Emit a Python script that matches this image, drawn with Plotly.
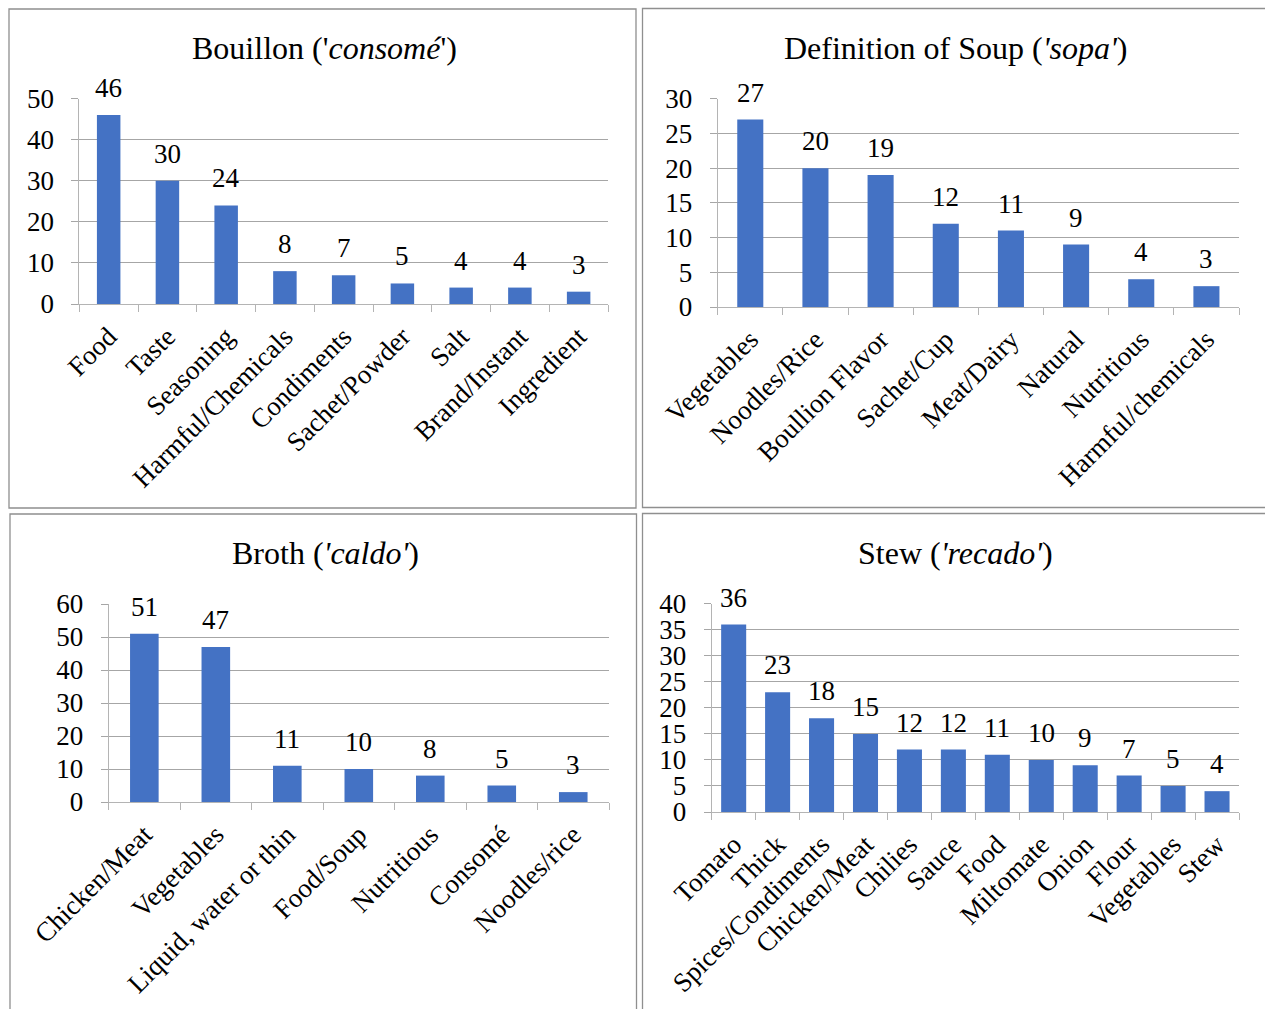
import plotly.graph_objects as go

W, H = 1265, 1009

# ---- data ----
bouillon_cats = ["Food", "Taste", "Seasoning", "Harmful/Chemicals", "Condiments",
                 "Sachet/Powder", "Salt", "Brand/Instant", "Ingredient"]
bouillon_vals = [46, 30, 24, 8, 7, 5, 4, 4, 3]

soup_cats = ["Vegetables", "Noodles/Rice", "Boullion Flavor", "Sachet/Cup",
             "Meat/Dairy", "Natural", "Nutritious", "Harmful/chemicals"]
soup_vals = [27, 20, 19, 12, 11, 9, 4, 3]

broth_cats = ["Chicken/Meat", "Vegetables", "Liquid, water or thin", "Food/Soup",
              "Nutritious", "Consomé", "Noodles/rice"]
broth_vals = [51, 47, 11, 10, 8, 5, 3]

stew_cats = ["Tomato", "Thick", "Spices/Condiments", "Chicken/Meat", "Chilies",
             "Sauce", "Food", "Miltomate", "Onion", "Flour", "Vegetables", "Stew"]
stew_vals = [36, 23, 18, 15, 12, 12, 11, 10, 9, 7, 5, 4]

titles = ["Bouillon ('<i>consomé</i>')",
          "Definition of Soup (<i>'sopa'</i>)",
          "Broth (<i>'caldo'</i>)",
          "Stew (<i>'recado'</i>)"]

# ---- styling / layout ----
FONT = "Liberation Serif"
BAR = "#4472C4"
GRID = "#a6a6a6"
AXIS = "#b4b4b4"
BORDER = "#8f8f8f"

panels = [
    dict(cats=bouillon_cats, vals=bouillon_vals, ymax=50, dtick=10, width=0.40,
         box=(79.3, 608, 98.7, 304), border=(9, 636, 9, 508), title_xy=(324, 48)),
    dict(cats=soup_cats, vals=soup_vals, ymax=30, dtick=5, width=0.40,
         box=(717.7, 1239, 98.7, 307), border=(642.5, 1275, 8.5, 507.5), title_xy=(955, 48)),
    dict(cats=broth_cats, vals=broth_vals, ymax=60, dtick=10, width=0.40,
         box=(108.6, 609, 604, 802), border=(10, 636.5, 514, 1020), title_xy=(325, 553)),
    dict(cats=stew_cats, vals=stew_vals, ymax=40, dtick=5, width=0.57,
         box=(711.7, 1239, 603.7, 812), border=(642.5, 1275, 513.5, 1020), title_xy=(955, 553)),
]

fig = go.Figure()
layout = dict(
    width=W, height=H, margin=dict(l=0, r=0, t=0, b=0, autoexpand=False),
    paper_bgcolor="white", plot_bgcolor="white", showlegend=False,
    font=dict(family=FONT, color="black", size=26),
)
annotations = []
shapes = []

for i, p in enumerate(panels, start=1):
    xa = "x" if i == 1 else f"x{i}"
    ya = "y" if i == 1 else f"y{i}"
    x0, x1, yt, yb = p["box"]
    fig.add_trace(go.Bar(
        x=p["cats"], y=p["vals"], xaxis=xa, yaxis=ya,
        marker=dict(color=BAR, line=dict(width=0)), width=p["width"],
        hoverinfo="x+y",
    ))
    layout[f"xaxis{'' if i == 1 else i}"] = dict(
        domain=[x0 / W, x1 / W], anchor=ya, type="category", automargin=False,
        showline=True, linecolor=AXIS, linewidth=1,
        ticks="outside", tickson="boundaries", ticklen=7, tickcolor=AXIS,
        tickangle=-45, ticklabelstandoff=5,
        tickfont=dict(family=FONT, size=27, color="black"),
        showgrid=False, fixedrange=True,
    )
    layout[f"yaxis{'' if i == 1 else i}"] = dict(
        domain=[(H - yb) / H, (H - yt) / H], anchor=xa, automargin=False,
        range=[0, p["ymax"]], dtick=p["dtick"], tick0=0,
        showline=True, linecolor=AXIS, linewidth=1,
        ticks="outside", ticklen=7, tickcolor=GRID,
        showgrid=True, gridcolor=GRID, gridwidth=1,
        zeroline=False, ticklabelstandoff=12,
        tickfont=dict(family=FONT, size=27, color="black"), fixedrange=True,
    )
    # value labels
    for c, v in zip(p["cats"], p["vals"]):
        annotations.append(dict(
            x=c, y=v, xref=xa, yref=ya, text=str(v), showarrow=False,
            yanchor="middle", yshift=27, font=dict(family=FONT, size=27, color="black"),
        ))
    # title
    tx, ty = p["title_xy"]
    annotations.append(dict(
        x=tx / W, y=(H - ty) / H, xref="paper", yref="paper", text=titles[i - 1],
        showarrow=False, xanchor="center", yanchor="middle",
        font=dict(family=FONT, size=32, color="black"),
    ))
    bx0, bx1, by0, by1 = p["border"]
    shapes.append(dict(
        type="rect", xref="paper", yref="paper",
        x0=bx0 / W, x1=bx1 / W, y0=(H - by1) / H, y1=(H - by0) / H,
        line=dict(color=BORDER, width=1.3), fillcolor="rgba(0,0,0,0)", layer="below",
    ))

layout["annotations"] = annotations
layout["shapes"] = shapes
fig.update_layout(**layout)

fig.write_html("out.html")
